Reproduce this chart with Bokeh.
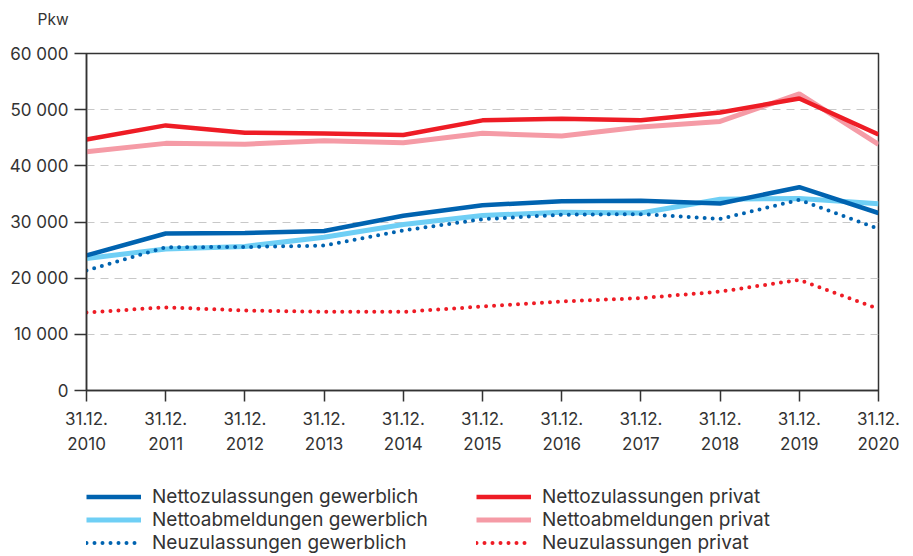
from bokeh.plotting import figure
from bokeh.layouts import column
from bokeh.models import (FixedTicker, Legend, LegendItem, Range1d, LinearAxis)
from bokeh.embed import file_html
from bokeh.resources import INLINE

years = [2010, 2011, 2012, 2013, 2014, 2015, 2016, 2017, 2018, 2019, 2020]
x_labels_top = ["31.12." for y in years]
x_labels_year = [str(y) for y in years]

y_ticks = [0, 10000, 20000, 30000, 40000, 50000, 60000]
y_labels = ["0", "10 000", "20 000", "30 000", "40 000", "50 000", "60 000"]

netto_zu_privat = [44700, 47200, 45900, 45750, 45500, 48100, 48400, 48100, 49500, 52000, 45600]
netto_ab_privat = [42500, 44000, 43850, 44450, 44100, 45800, 45300, 46900, 47900, 52800, 43800]
netto_zu_gew = [24050, 27950, 28050, 28400, 31100, 33000, 33700, 33770, 33300, 36200, 31600]
netto_ab_gew = [23500, 25200, 25650, 27300, 29550, 31150, 31750, 31600, 34050, 34200, 33250]
neu_gew = [21350, 25500, 25550, 25800, 28500, 30500, 31300, 31400, 30550, 33950, 28800]
neu_privat = [13900, 14800, 14250, 14000, 14000, 14950, 15850, 16450, 17600, 19700, 14550]

labels_gew = ["Nettozulassungen gewerblich", "Nettoabmeldungen gewerblich", "Neuzulassungen gewerblich"]
labels_priv = ["Nettozulassungen privat", "Nettoabmeldungen privat", "Neuzulassungen privat"]
unit_label = "Pkw"

FONT = "Inter"
TXT = "#333333"
BLUE = "#0063b0"
LBLUE = "#6fcff5"
RED = "#ee1c25"
PINK = "#f59ba6"

def blank_figure(height, **kw):
    f = figure(width=913, height=height, output_backend="svg", toolbar_location=None,
               x_axis_type=None, y_axis_type=None,
               x_range=Range1d(0, 1), y_range=Range1d(0, 1), **kw)
    f.outline_line_color = None
    f.xgrid.grid_line_color = None
    f.ygrid.grid_line_color = None
    return f

# header with the unit label
t = blank_figure(39, min_border_top=0, min_border_bottom=0, title=unit_label)
t.title.align = "left"
t.title.offset = -49
t.title.standoff = 14
t.title.text_font = FONT
t.title.text_font_size = "15.5px"
t.title.text_font_style = "normal"
t.title.text_color = TXT

p = figure(width=913, height=431, output_backend="svg", toolbar_location=None,
           x_range=Range1d(2010, 2020), y_range=Range1d(0, 60000),
           min_border_left=86, min_border_right=35, min_border_top=14,
           min_border_bottom=80)

p.outline_line_color = "#333333"
p.outline_line_width = 1.5
p.xgrid.grid_line_color = None
p.ygrid.grid_line_color = "#c8c8c8"
p.ygrid.grid_line_dash = "8 6"
p.ygrid.grid_line_width = 1

year_axis = LinearAxis()
p.add_layout(year_axis, "below")

p.xaxis[0].ticker = FixedTicker(ticks=years)
p.xaxis[0].major_label_overrides = dict(zip(years, x_labels_top))
year_axis.ticker = FixedTicker(ticks=years)
year_axis.major_label_overrides = dict(zip(years, x_labels_year))
p.yaxis.ticker = FixedTicker(ticks=y_ticks)
p.yaxis.major_label_overrides = dict(zip(y_ticks, y_labels))
for ax in (p.xaxis[0], p.yaxis[0], year_axis):
    ax.axis_line_color = "#333333"
    ax.axis_line_width = 1.5
    ax.major_tick_line_color = "#333333"
    ax.major_tick_line_width = 1.5
    ax.minor_tick_line_color = None
    ax.major_tick_in = 0
    ax.major_label_text_font = FONT
    ax.major_label_text_font_size = "17px"
    ax.major_label_text_color = TXT
p.xaxis[0].major_tick_out = 11
p.xaxis[0].major_label_standoff = 10
year_axis.axis_line_color = None
year_axis.major_tick_line_color = None
year_axis.major_tick_out = 0
year_axis.major_label_standoff = 9
p.yaxis.major_tick_out = 12
p.yaxis.major_label_standoff = 6

styles = {
    "zu_gew": dict(line_color=BLUE, line_width=4.5),
    "ab_gew": dict(line_color=LBLUE, line_width=5),
    "neu_gew": dict(line_color=BLUE, line_width=4, line_dash="0 8", line_cap="round"),
    "zu_priv": dict(line_color=RED, line_width=4.5),
    "ab_priv": dict(line_color=PINK, line_width=5),
    "neu_priv": dict(line_color=RED, line_width=4, line_dash="0 8", line_cap="round"),
}

p.line(years, netto_ab_privat, **styles["ab_priv"])
p.line(years, netto_zu_privat, **styles["zu_priv"])
p.line(years, netto_ab_gew, **styles["ab_gew"])
p.line(years, netto_zu_gew, **styles["zu_gew"])
p.line(years, neu_gew, **styles["neu_gew"])
p.line(years, neu_privat, **styles["neu_priv"])

# legend figure (its frame is aligned with the main frame by the column layout)
q = blank_figure(86, min_border=0)

nan = float("nan")
row_offsets = [48, 25, 2]   # distance of each legend row's bottom from the bottom, px
col_offsets = [0, 390]      # distance of each legend column from the frame's left, px

groups = [(labels_gew, ["zu_gew", "ab_gew", "neu_gew"]),
          (labels_priv, ["zu_priv", "ab_priv", "neu_priv"])]
for (labels, keys), cx in zip(groups, col_offsets):
    for label, key, ry in zip(labels, keys, row_offsets):
        r = q.line([nan], [nan], **styles[key])
        q.add_layout(Legend(items=[LegendItem(label=label, renderers=[r])],
                            location=(cx, ry), orientation="vertical",
                            glyph_width=55, glyph_height=23, label_height=23,
                            label_standoff=11, spacing=0, padding=0, margin=0,
                            border_line_color=None, background_fill_alpha=0,
                            label_text_font=FONT, label_text_font_size="19px",
                            label_text_color=TXT))

layout = column(t, p, q, spacing=0)
open("out.html", "w").write(file_html(layout, INLINE))
